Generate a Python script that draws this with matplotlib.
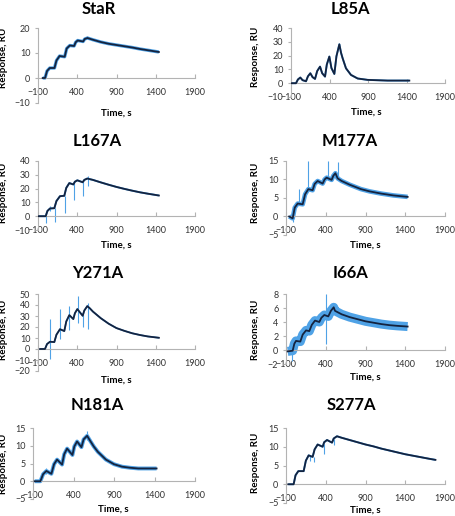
import matplotlib.pyplot as plt
from matplotlib.ticker import MultipleLocator

plt.rcParams['font.family'] = ['Lato', 'DejaVu Sans']

# ---- data (time in s, response in RU) ----
star_t = [-40, -10, 15, 50, 110, 135, 175, 240, 265, 305, 360, 380, 405, 475, 495, 530,
          600, 700, 800, 900, 1000, 1100, 1200, 1300, 1440]
star_y = [0, 0, 2.8, 4, 4, 7, 8.8, 8.5, 11.8, 13, 12.8, 14.3, 15, 14.6, 15.6, 16,
          15.3, 14.4, 13.7, 13.2, 12.7, 12.2, 11.6, 11.1, 10.4]
star_spk_t, star_spk_lo, star_spk_hi = [530], [15.5], [17]

l85a_t = [-90, -35, -10, 21, 50, 95, 120, 151, 180, 212, 240, 277, 305, 342, 365, 398,
          425, 463, 490, 528, 550, 571, 614, 679, 766, 896, 1155, 1437]
l85a_y = [0, 0, 2.7, 4.1, 2.2, 1.4, 5.0, 7.2, 4.4, 3.1, 8.8, 12, 7.2, 4.8, 13.5, 19.3,
          11, 6.7, 19.5, 28.2, 22, 18, 10.8, 6, 3.4, 2.4, 1.9, 1.9]
l85a_spk_t, l85a_spk_lo, l85a_spk_hi = [], [], []

l167a_t = [-100, -30, -2, 20, 53, 108, 135, 180, 235, 260, 299, 350, 370, 401, 469, 490,
           528, 600, 700, 800, 900, 1000, 1100, 1200, 1300, 1440]
l167a_y = [0, 0, 0, 3.8, 5.6, 5.8, 11, 14.5, 14.8, 20.5, 24, 23, 25, 26, 24.6, 26.3,
           27.3, 26.3, 24.5, 22.8, 21.2, 19.8, 18.5, 17.3, 16.3, 15]
l167a_spk_t = [-2, 53, 117, 244, 358, 477, 541]
l167a_spk_lo = [-5, 4, -4, 2.5, 12, 14.5, 22]
l167a_spk_hi = [0, 7.5, 6, 15, 24, 26, 29]

m177a_t = [-60, -16, 10, 47, 110, 140, 181, 235, 260, 298, 361, 385, 411, 474, 495, 521,
           550, 600, 700, 843, 950, 1095, 1250, 1430]
m177a_y = [0, -0.5, 2.4, 3.5, 3.3, 6, 7.4, 7.1, 8.8, 9.6, 8.9, 10, 10.5, 9.9, 11, 11.7,
           10.3, 9.6, 8.6, 7.4, 6.8, 6.2, 5.7, 5.3]
m177a_spk_t = [-10, 59, 181, 424, 550]
m177a_spk_lo = [-1.5, 3.5, 7, 10, 10.5]
m177a_spk_hi = [0.5, 7.4, 15, 15, 14.8]

y271a_t = [-74, -11, 15, 53, 108, 135, 180, 235, 260, 299, 350, 370, 401, 469, 490, 528,
           560, 600, 700, 800, 900, 1000, 1100, 1200, 1300, 1440]
y271a_y = [0, 0, 4.5, 6.6, 6.3, 13, 18, 16.3, 25, 30.8, 27.2, 32.5, 36.3, 30.2, 35, 39,
           37, 34, 28, 23, 19, 16.5, 14.3, 12.7, 11.4, 10.2]
y271a_spk_t = [53, 180, 299, 414, 475, 541]
y271a_spk_lo = [-9, 9, 17, 24, 20, 18]
y271a_spk_hi = [27, 36, 39, 48, 33, 42]

i66a_t = [-79, -16, 5, 26, 80, 110, 152, 193, 225, 265, 319, 345, 382, 432, 465, 500,
          516, 600, 700, 800, 900, 1000, 1100, 1200, 1300, 1430]
i66a_y = [-0.2, -0.1, 0.9, 1.3, 1.2, 2.2, 2.8, 2.7, 3.6, 4.2, 4.0, 4.6, 5.0, 4.8, 5.6, 6.1,
          5.6, 5.1, 4.7, 4.4, 4.1, 3.9, 3.7, 3.55, 3.45, 3.35]
i66a_spk_t, i66a_spk_lo, i66a_spk_hi = [-30, 403], [-1.6, 0.8], [0.5, 8]

n181a_t = [-79, -9, 25, 65, 127, 160, 197, 259, 285, 321, 387, 410, 444, 498, 525, 568,
           600, 650, 700, 800, 900, 1000, 1100, 1200, 1300, 1426]
n181a_y = [0, 0, 2.0, 2.9, 2.1, 4.8, 6.1, 4.7, 7.6, 9.2, 7.4, 9.8, 11.2, 9.6, 11.8, 12.8,
           11.6, 9.8, 8.3, 6.1, 4.8, 4.1, 3.8, 3.6, 3.6, 3.6]
n181a_spk_t, n181a_spk_lo, n181a_spk_hi = [65, 568], [2, 11.5], [3.8, 14.1]

s277a_t = [-71, -4, 20, 55, 122, 150, 185, 235, 260, 298, 361, 380, 416, 479, 500, 541,
           600, 700, 800, 900, 1000, 1100, 1200, 1300, 1400, 1500, 1600, 1700, 1780]
s277a_y = [0, 0, 2.4, 3.5, 3.5, 6.3, 7.7, 7.3, 9.3, 10.6, 10, 11.2, 11.8, 11.1, 12.2, 12.8,
           12.4, 11.8, 11.2, 10.6, 10.1, 9.5, 9.0, 8.5, 8.0, 7.6, 7.2, 6.8, 6.5]
s277a_spk_t = [202, 256, 382, 500]
s277a_spk_lo = [6.2, 5.9, 8, 10.5]
s277a_spk_hi = [7.7, 7.3, 10.8, 12]

# ---- layout (pixels, from top-left) ----
W, H = 455, 516
FIT = '#14233f'
DATA = '#4fa2e6'
AX = '#b3b3b3'

# name, t, y, spikes, (ymin, ymax, step), axes box (x0, x1, ytop, ybot),
# title pos, xlabel pos, ylabel pos, data band width
panels = [
    ('StaR', star_t, star_y, (star_spk_t, star_spk_lo, star_spk_hi), (-10, 20, 10),
     (38, 195, 28, 103), (99, 9), (116, 113), (4, 58), 2.4),
    ('L85A', l85a_t, l85a_y, (l85a_spk_t, l85a_spk_lo, l85a_spk_hi), (-10, 40, 10),
     (291, 445, 28, 97), (350, 9), (366, 112), (255, 57), 1.4),
    ('L167A', l167a_t, l167a_y, (l167a_spk_t, l167a_spk_lo, l167a_spk_hi), (-10, 40, 10),
     (38, 195, 161, 230), (97, 141), (116, 245), (4, 193), 1.4),
    ('M177A', m177a_t, m177a_y, (m177a_spk_t, m177a_spk_lo, m177a_spk_hi), (-5, 15, 5),
     (286, 445, 161, 235), (350, 141), (365, 245), (255, 193), 3.3),
    ('Y271A', y271a_t, y271a_y, (y271a_spk_t, y271a_spk_lo, y271a_spk_hi), (-20, 50, 10),
     (38, 195, 294, 371), (98, 273), (116, 380), (4, 330), 1.2),
    ('I66A', i66a_t, i66a_y, (i66a_spk_t, i66a_spk_lo, i66a_spk_hi), (-2, 8, 2),
     (286, 445, 294, 364), (350, 273), (365, 377), (255, 330), 6.5),
    ('N181A', n181a_t, n181a_y, (n181a_spk_t, n181a_spk_lo, n181a_spk_hi), (-5, 15, 5),
     (33, 195, 428, 499), (97, 405), (113, 509), (4, 464), 2.8),
    ('S277A', s277a_t, s277a_y, (s277a_spk_t, s277a_spk_lo, s277a_spk_hi), (-5, 15, 5),
     (286, 445, 428, 503), (351, 405), (365, 510), (255, 463), 1.4),
]

fig = plt.figure(figsize=(W / 100, H / 100), dpi=100)

for (name, t, y, spk, (ylo, yhi, ystep), (x0, x1, yt, yb),
     tpos, xlpos, ylpos, band) in panels:
    ax = fig.add_axes([x0 / W, 1 - yb / H, (x1 - x0) / W, (yb - yt) / H])
    ax.plot(t, y, color=DATA, lw=band, solid_capstyle='butt', zorder=2)
    ax.vlines(spk[0], spk[1], spk[2], color=DATA, lw=0.8, zorder=2)
    ax.plot(t, y, color=FIT, lw=1.3, zorder=3)

    ax.set_xlim(-100, 1900)
    ax.set_ylim(ylo, yhi)
    ax.set_xticks([-100, 400, 900, 1400, 1900])
    ax.yaxis.set_major_locator(MultipleLocator(ystep))

    for s in ['top', 'right']:
        ax.spines[s].set_visible(False)
    ax.spines['bottom'].set_position(('data', 0))
    for s in ['left', 'bottom']:
        ax.spines[s].set_color(AX)
        ax.spines[s].set_linewidth(0.8)
    ax.tick_params(axis='x', direction='in', length=3, width=0.8, color=AX,
                   pad=7, labelsize=6.5, labelcolor='#333333')
    ax.tick_params(axis='y', direction='out', length=2.5, width=0.8, color=AX,
                   pad=3, labelsize=6.5, labelcolor='#333333')
    ax.patch.set_alpha(0)

    fig.text(tpos[0] / W, 1 - tpos[1] / H, name, ha='center', va='center',
             fontsize=12, fontweight='bold')
    fig.text(xlpos[0] / W, 1 - xlpos[1] / H, 'Time, s', ha='center', va='center',
             fontsize=7, fontweight='bold')
    fig.text(ylpos[0] / W, 1 - ylpos[1] / H, 'Response, RU', ha='center',
             va='center', rotation=90, fontsize=7, fontweight='bold')

fig.savefig('out.png', dpi=100)
